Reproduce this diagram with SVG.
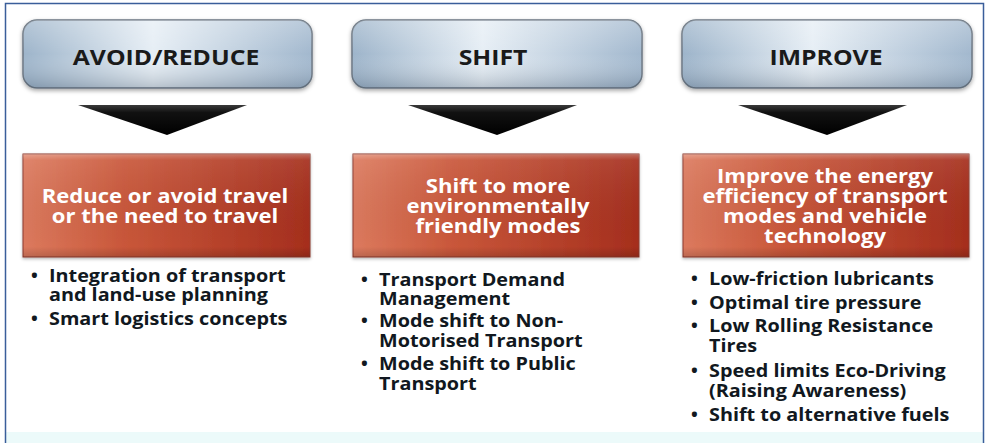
<svg xmlns="http://www.w3.org/2000/svg" width="987" height="443" viewBox="0 0 987 443">
<style>
.hdr{font-family:"Open Sans","Liberation Sans",sans-serif;font-weight:700;font-size:21px;fill:#1a1a1a;text-anchor:middle}
.red{font-family:"Open Sans","Liberation Sans",sans-serif;font-weight:700;font-size:19px;fill:#ffffff;text-anchor:middle}
.bul{font-family:"Open Sans","Liberation Sans",sans-serif;font-weight:700;font-size:18px;fill:#111820}
.hbox{fill:url(#blueH);stroke:#6b7682;stroke-width:1.5;filter:url(#sh)}
.hov{fill:url(#blueV)}
.rbox{fill:url(#redH);stroke:#8c3a2e;stroke-width:1;filter:url(#sh2)}
.rov{fill:url(#redV)}
.tri{fill:url(#triG)}
</style>
<defs>
<linearGradient id="blueH" x1="0" y1="0" x2="1" y2="0">
<stop offset="0" stop-color="#9db4ca"/>
<stop offset="0.45" stop-color="#e6eef5"/>
<stop offset="1" stop-color="#a2b8ce"/>
</linearGradient>
<linearGradient id="blueV" x1="0" y1="0" x2="0" y2="1">
<stop offset="0" stop-color="#ffffff" stop-opacity="0.25"/>
<stop offset="0.5" stop-color="#ffffff" stop-opacity="0"/>
<stop offset="1" stop-color="#2a3c50" stop-opacity="0.25"/>
</linearGradient>
<linearGradient id="redH" x1="0" y1="0" x2="1" y2="0">
<stop offset="0" stop-color="#dc7a5e"/>
<stop offset="0.35" stop-color="#c9573a"/>
<stop offset="1" stop-color="#a52e1d"/>
</linearGradient>
<linearGradient id="redV" x1="0" y1="0" x2="0" y2="1">
<stop offset="0" stop-color="#ffffff" stop-opacity="0.3"/>
<stop offset="0.06" stop-color="#ffffff" stop-opacity="0.08"/>
<stop offset="0.9" stop-color="#000000" stop-opacity="0"/>
<stop offset="1" stop-color="#000000" stop-opacity="0.15"/>
</linearGradient>
<linearGradient id="triG" x1="0" y1="0" x2="0" y2="1">
<stop offset="0" stop-color="#3a3a3a"/>
<stop offset="0.25" stop-color="#111111"/>
<stop offset="1" stop-color="#000000"/>
</linearGradient>
<filter id="sh" x="-5%" y="-10%" width="110%" height="130%">
<feDropShadow dx="0" dy="2" stdDeviation="2" flood-color="#000" flood-opacity="0.35"/>
</filter>
<filter id="sh2" x="-5%" y="-10%" width="110%" height="130%">
<feDropShadow dx="0" dy="1.5" stdDeviation="1.5" flood-color="#000" flood-opacity="0.3"/>
</filter>
</defs>
<rect x="0" y="0" width="987" height="443" fill="#ffffff"/>
<rect x="5" y="432" width="979" height="11" fill="#ecfafa"/>
<path d="M5.5 443 V3.5 H983.5 V443" fill="none" stroke="#3a5e9a" stroke-width="1.5"/>

<g id="avoid-header">
<rect class="hbox" x="23" y="20" width="289" height="68" rx="14"/>
<rect class="hov" x="23" y="20" width="289" height="68" rx="14"/>
<text class="hdr" transform="translate(166 65) scale(1.18 1)">AVOID/REDUCE</text>
</g>
<g id="shift-header">
<rect class="hbox" x="352" y="20" width="290" height="68" rx="14"/>
<rect class="hov" x="352" y="20" width="290" height="68" rx="14"/>
<text class="hdr" transform="translate(493 65) scale(1.18 1)">SHIFT</text>
</g>
<g id="improve-header">
<rect class="hbox" x="682" y="20" width="290" height="68" rx="14"/>
<rect class="hov" x="682" y="20" width="290" height="68" rx="14"/>
<text class="hdr" transform="translate(826 65) scale(1.18 1)">IMPROVE</text>
</g>

<g id="connectors">
<polygon class="tri" points="78,105 247,105 167,135"/>
<polygon class="tri" points="408,105 577,105 497,135"/>
<polygon class="tri" points="738,105 907,105 827,135"/>
</g>

<g id="avoid-goal">
<rect class="rbox" x="23" y="154" width="287" height="103"/>
<rect class="rov" x="23" y="154" width="287" height="103"/>
<g transform="translate(165 0) scale(1.16 1)">
<text class="red" x="0" y="203">Reduce or avoid travel</text>
<text class="red" x="0" y="223">or the need to travel</text>
</g>
</g>
<g id="shift-goal">
<rect class="rbox" x="353" y="154" width="286" height="103"/>
<rect class="rov" x="353" y="154" width="286" height="103"/>
<g transform="translate(498 0) scale(1.16 1)">
<text class="red" x="0" y="193">Shift to more</text>
<text class="red" x="0" y="213">environmentally</text>
<text class="red" x="0" y="233">friendly modes</text>
</g>
</g>
<g id="improve-goal">
<rect class="rbox" x="683" y="154" width="286" height="103"/>
<rect class="rov" x="683" y="154" width="286" height="103"/>
<g transform="translate(825 0) scale(1.16 1)">
<text class="red" x="0" y="183">Improve the energy</text>
<text class="red" x="0" y="203">efficiency of transport</text>
<text class="red" x="0" y="223">modes and vehicle</text>
<text class="red" x="0" y="243">technology</text>
</g>
</g>

<g id="avoid-measures" class="bul">
<text x="31" y="282">•</text><text x="31" y="325">•</text>
<g transform="translate(49 0) scale(1.1 1)">
<text x="0" y="282">Integration of transport</text>
<text x="0" y="301">and land-use planning</text>
<text x="0" y="325">Smart logistics concepts</text>
</g>
</g>
<g id="shift-measures" class="bul">
<text x="361" y="286">•</text><text x="361" y="327">•</text><text x="361" y="370">•</text>
<g transform="translate(379 0) scale(1.1 1)">
<text x="0" y="286">Transport Demand</text>
<text x="0" y="305">Management</text>
<text x="0" y="327">Mode shift to Non-</text>
<text x="0" y="347">Motorised Transport</text>
<text x="0" y="370">Mode shift to Public</text>
<text x="0" y="390">Transport</text>
</g>
</g>
<g id="improve-measures" class="bul">
<text x="691" y="285">•</text><text x="691" y="309">•</text><text x="691" y="332">•</text><text x="691" y="377">•</text><text x="691" y="421">•</text>
<g transform="translate(709 0) scale(1.1 1)">
<text x="0" y="285">Low-friction lubricants</text>
<text x="0" y="309">Optimal tire pressure</text>
<text x="0" y="332">Low Rolling Resistance</text>
<text x="0" y="352">Tires</text>
<text x="0" y="377">Speed limits Eco-Driving</text>
<text x="0" y="397">(Raising Awareness)</text>
<text x="0" y="421">Shift to alternative fuels</text>
</g>
</g>
</svg>
